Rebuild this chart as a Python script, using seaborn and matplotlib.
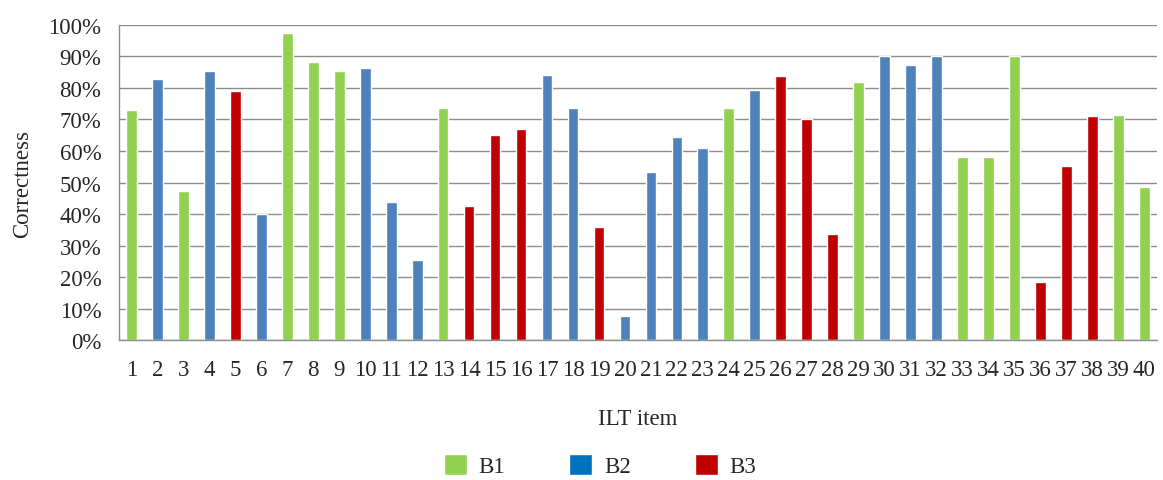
import numpy as np
import pandas as pd
import matplotlib
matplotlib.use("Agg")
import matplotlib.pyplot as plt
import seaborn as sns
from matplotlib.patches import Patch
from matplotlib.ticker import PercentFormatter

items = [str(i) for i in range(1, 41)]
correctness = [73.0, 82.9, 47.3, 85.3, 79.0, 40.1, 97.4, 88.4, 85.4, 86.4,
               43.8, 25.3, 73.5, 42.7, 65.0, 67.0, 84.2, 73.5, 35.8, 7.5,
               53.2, 64.6, 61.1, 73.5, 79.5, 83.8, 70.2, 33.8, 81.9, 90.0,
               87.3, 90.0, 58.0, 58.0, 90.0, 18.4, 55.2, 71.0, 71.5, 48.7]
groups = ["B1", "B2", "B1", "B2", "B3", "B2", "B1", "B1", "B1", "B2",
          "B2", "B2", "B1", "B3", "B3", "B3", "B2", "B2", "B3", "B2",
          "B2", "B2", "B2", "B1", "B2", "B3", "B3", "B3", "B1", "B2",
          "B2", "B2", "B1", "B1", "B1", "B3", "B3", "B3", "B1", "B1"]
group_names = ["B1", "B2", "B3"]
colors = {"B1": "#92D050", "B2": "#4F81BD", "B3": "#C00000"}
legend_colors = {"B1": "#92D050", "B2": "#0070C0", "B3": "#C00000"}

df = pd.DataFrame({"item": items, "value": correctness, "group": groups})

sns.set_style("white")
plt.rcParams["font.family"] = ["Liberation Serif", "DejaVu Serif"]
fs = 16.5

fig = plt.figure(figsize=(11.63, 4.81), dpi=100)
ax = fig.add_axes([0.102, 0.291, 0.893, 0.655])

sns.barplot(data=df, x="item", y="value", hue="group", order=items,
            hue_order=group_names, palette=colors, dodge=False,
            width=0.41, saturation=1, legend=False, ax=ax)

ax.set_ylim(0, 100)
ax.set_xlim(-0.5, len(items) - 0.5)
ax.set_yticks(np.arange(0, 101, 10))
ax.yaxis.set_major_formatter(PercentFormatter(100, decimals=0))
ax.grid(axis="y", color="#8c8c8c", linewidth=1)
ax.set_axisbelow(True)
for side in ["top", "right"]:
    ax.spines[side].set_visible(False)
for side in ["left", "bottom"]:
    ax.spines[side].set_color("#8c8c8c")
    ax.spines[side].set_linewidth(1)
ax.tick_params(axis="y", length=6.5, width=1, color="#8c8c8c", labelsize=fs, pad=6)
ax.tick_params(axis="x", length=0, labelsize=fs, pad=14)

ax.set_xlabel("ILT item", fontsize=fs, labelpad=20)
ax.set_ylabel("Correctness", fontsize=fs, labelpad=11)

handles = [Patch(facecolor=legend_colors[g], label=g) for g in group_names]
fig.legend(handles=handles, loc="center", bbox_to_anchor=(0.516, 0.03),
           ncol=3, frameon=False, fontsize=fs, handlelength=1.0,
           handleheight=1.0, columnspacing=2.8, handletextpad=0.5)

fig.savefig("out.png", dpi=100)
